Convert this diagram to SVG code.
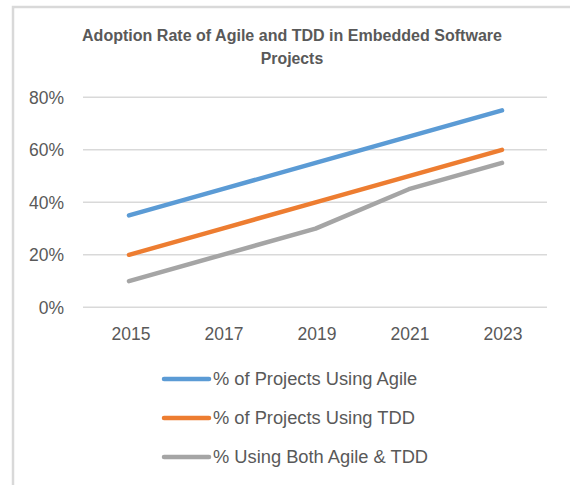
<svg xmlns="http://www.w3.org/2000/svg" width="570" height="485" viewBox="0 0 570 485">
  <style>
    .frame { fill: none; stroke: #d9d9d9; stroke-width: 2.5; }
    .grid { stroke: #d9d9d9; stroke-width: 1.5; }
    .title { font-family: "Liberation Sans", Arial, sans-serif; font-weight: bold; font-size: 15.8px; fill: #595959; text-anchor: middle; }
    .tick { font-family: "Liberation Sans", Arial, sans-serif; font-size: 17.5px; fill: #595959; }
    .ylab { text-anchor: end; }
    .xlab { text-anchor: middle; }
    .legend { font-family: "Liberation Sans", Arial, sans-serif; font-size: 18.3px; fill: #595959; }
    .series { fill: none; stroke-width: 4.5; stroke-linecap: round; stroke-linejoin: round; }
    .agile { stroke: #5b9bd5; }
    .tdd { stroke: #ed7d31; }
    .both { stroke: #a5a5a5; }
  </style>

  <rect width="570" height="485" fill="#ffffff"/>
  <!-- chart area frame (top and left edges visible) -->
  <polyline class="frame" points="13,485 13,7 570,7"/>

  <!-- title -->
  <g id="title">
    <text class="title" x="292" y="41" textLength="420" lengthAdjust="spacingAndGlyphs">Adoption Rate of Agile and TDD in Embedded Software</text>
    <text class="title" x="292" y="64">Projects</text>
  </g>

  <!-- horizontal gridlines -->
  <g id="gridlines">
    <line class="grid" x1="83" y1="97.3" x2="547" y2="97.3"/>
    <line class="grid" x1="83" y1="149.8" x2="547" y2="149.8"/>
    <line class="grid" x1="83" y1="202.3" x2="547" y2="202.3"/>
    <line class="grid" x1="83" y1="254.8" x2="547" y2="254.8"/>
    <line class="grid" x1="83" y1="307.3" x2="547" y2="307.3"/>
  </g>

  <!-- value axis labels -->
  <g id="y-axis">
    <text class="tick ylab" x="64" y="103.5">80%</text>
    <text class="tick ylab" x="64" y="156">60%</text>
    <text class="tick ylab" x="64" y="208.5">40%</text>
    <text class="tick ylab" x="64" y="261">20%</text>
    <text class="tick ylab" x="64" y="313.5">0%</text>
  </g>

  <!-- category axis labels -->
  <g id="x-axis">
    <text class="tick xlab" x="131" y="340">2015</text>
    <text class="tick xlab" x="224" y="340">2017</text>
    <text class="tick xlab" x="317" y="340">2019</text>
    <text class="tick xlab" x="410" y="340">2021</text>
    <text class="tick xlab" x="503" y="340">2023</text>
  </g>

  <!-- data series -->
  <g id="connectors">
    <polyline id="series-agile" class="series agile" points="129,215.4 222.3,189.2 315.5,162.9 408.8,136.7 502,110.4"/>
    <polyline id="series-tdd" class="series tdd" points="129,254.8 222.3,228.6 315.5,202.3 408.8,176.1 502,149.8"/>
    <polyline id="series-both" class="series both" points="129,281.1 222.3,254.8 315.5,228.6 408.8,189.2 502,162.9"/>
  </g>

  <!-- legend -->
  <g id="legend-agile">
    <line class="series agile" x1="164" y1="379" x2="209" y2="379"/>
    <text class="legend" x="213" y="385">% of Projects Using Agile</text>
  </g>
  <g id="legend-tdd">
    <line class="series tdd" x1="164" y1="418" x2="209" y2="418"/>
    <text class="legend" x="213" y="424">% of Projects Using TDD</text>
  </g>
  <g id="legend-both">
    <line class="series both" x1="164" y1="457" x2="209" y2="457"/>
    <text class="legend" x="213" y="463">% Using Both Agile &amp; TDD</text>
  </g>
</svg>
